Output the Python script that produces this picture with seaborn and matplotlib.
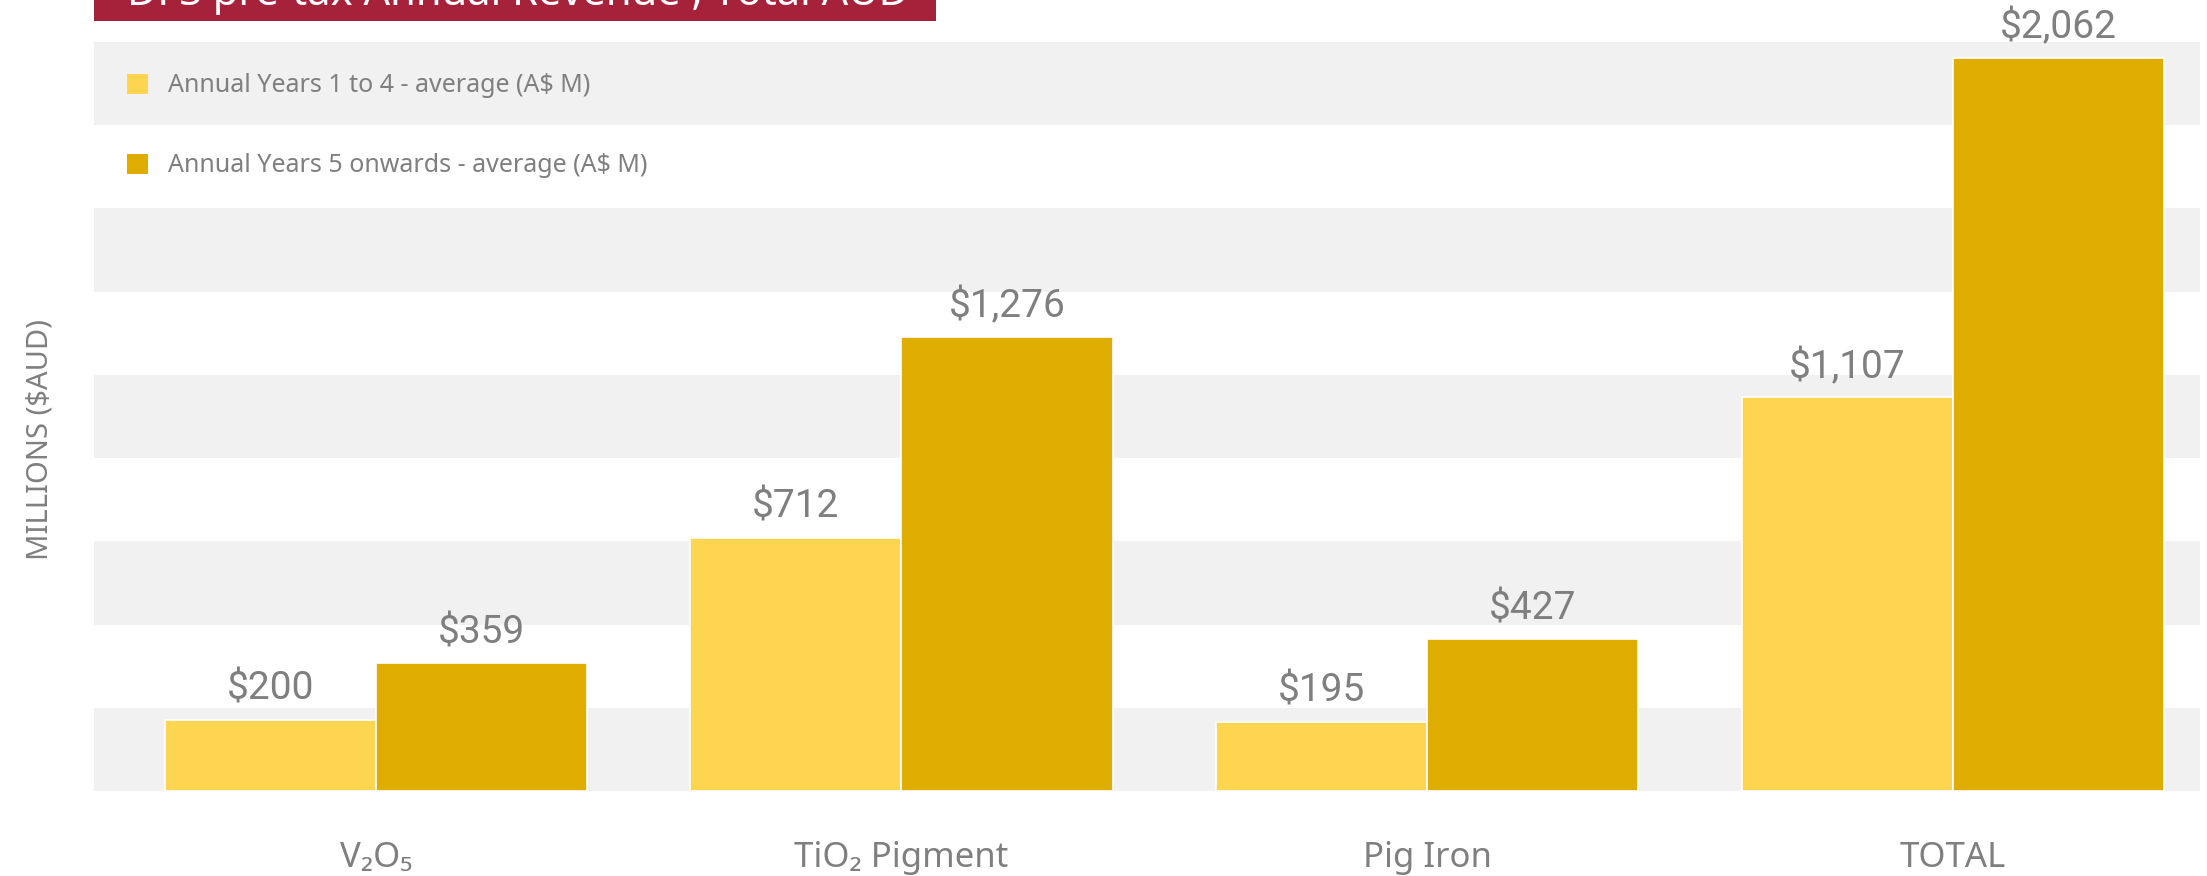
import matplotlib
matplotlib.use("Agg")
import matplotlib.pyplot as plt
import seaborn as sns
import pandas as pd
from matplotlib.patches import Rectangle, Patch

# ---- data ----
categories = ["V₂O₅", "TiO₂ Pigment", "Pig Iron", "TOTAL"]
series_names = ["Annual Years 1 to 4 - average (A$ M)",
                "Annual Years 5 onwards - average (A$ M)"]
years_1_to_4 = [200, 712, 195, 1107]
years_5_on = [359, 1276, 427, 2062]
title_text = "DFS pre-tax Annual Revenue , Total AUD"
ylabel_text = "MILLIONS ($AUD)"

colors = ["#FDD551", "#DFAC00"]
grey_text = "#7f7f7f"

df = pd.DataFrame({
    "category": categories * 2,
    "series": [series_names[0]] * 4 + [series_names[1]] * 4,
    "value": years_1_to_4 + years_5_on,
})

sns.set_theme(style="white")
plt.rcParams["font.family"] = ["Noto Sans", "DejaVu Sans"]

fig = plt.figure(figsize=(22.07, 8.76), dpi=100)
ax = fig.add_axes([94 / 2207, 85 / 876, (2200 - 94) / 2207, (791 - 42) / 876])

ymax = 2106
nb = 9
bh = ymax / nb
for i in range(nb):
    if i % 2 == 0:
        ax.axhspan(i * bh, (i + 1) * bh, color="#f1f1f1", lw=0, zorder=0)

sns.barplot(data=df, x="category", y="value", hue="series", order=categories,
            hue_order=series_names, palette=colors, saturation=1, width=0.803,
            edgecolor="white", linewidth=1.2, ax=ax, zorder=2, legend=False)

ax.set_ylim(0, ymax)
ax.set_xlim(-0.536, 3.47)

for container in ax.containers:
    for bar in container:
        h = bar.get_height()
        ax.annotate(f"${h:,.0f}", (bar.get_x() + bar.get_width() / 2, h),
                    xytext=(0, 22), textcoords="offset points",
                    ha="center", va="center", fontsize=28, color=grey_text,
                    family=["Roboto", "DejaVu Sans"], annotation_clip=False,
                    zorder=3)

for s in ax.spines.values():
    s.set_visible(False)
ax.set_yticks([])
ax.set_xlabel("")
ax.set_ylabel("")
ax.tick_params(axis="x", length=0, pad=36, labelsize=25, labelcolor=grey_text)

fig.text(40 / 2207, 1 - 440 / 876, ylabel_text, rotation=90, ha="center",
         va="center", fontsize=21, color=grey_text)

handles = [Patch(facecolor=c, edgecolor="none") for c in colors]
leg = ax.legend(handles, series_names, loc="upper left",
                bbox_to_anchor=(104 / 2207, 1 - 51 / 876),
                bbox_transform=fig.transFigure, frameon=False,
                handlelength=0.85, handleheight=0.85, handletextpad=0.8,
                labelspacing=2.2, fontsize=18)
for t in leg.get_texts():
    t.set_color(grey_text)

# clipped title banner at the top
fig.patches.append(Rectangle((94 / 2207, 1 - 21 / 876), (936 - 94) / 2207,
                             40 / 876, transform=fig.transFigure,
                             facecolor="#A6213A", edgecolor="none", zorder=5))
fig.text(127 / 2207, 1 - 5 / 876, title_text, ha="left", va="baseline",
         fontsize=30, color="white", zorder=6)

fig.savefig("out.png", dpi=100)
